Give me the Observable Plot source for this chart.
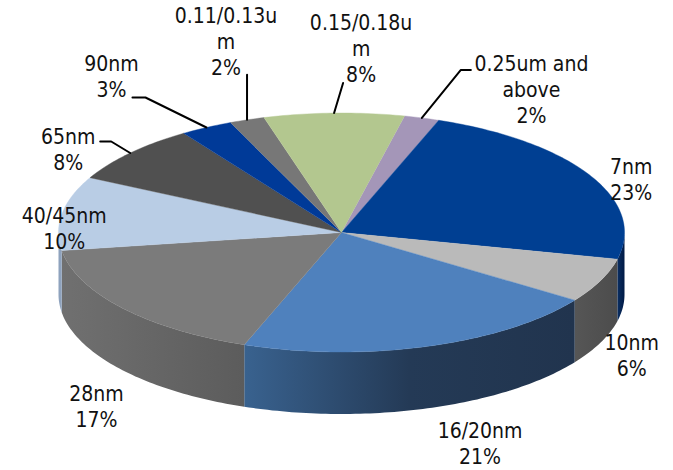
<!DOCTYPE html>
<html>
<head>
<meta charset="utf-8">
<script src="https://cdn.jsdelivr.net/npm/d3@7"></script>
<script src="https://cdn.jsdelivr.net/npm/@observablehq/plot@0.6"></script>
<style>
  html, body { margin: 0; padding: 0; background: #fff; }
  svg { display: block; }
</style>
</head>
<body>
<div id="chart"></div>
<script>
// Share of capacity by process node, clockwise from the first slice.
const nodes = ["0.25um and\nabove", "7nm", "10nm", "16/20nm", "28nm", "40/45nm", "65nm", "90nm", "0.11/0.13u\nm", "0.15/0.18u\nm"];
const shares = [2, 23, 6, 21, 17, 10, 8, 3, 2, 8];
const topColors = ["#a496b8", "#003f92", "#bababa", "#4f81bd", "#7b7b7b", "#b9cde5", "#505050", "#003a98", "#777777", "#b3c78f"];
const wallStops = [
  ["#6f6580", "#5f5570"], ["#0b2f63", "#001a45"], ["#565656", "#4c4c4c"],
  ["#39628f", "#243a56", "#21344e"], ["#707070", "#5c5c5c"], ["#8ea2bd", "#8ea2bd"],
  ["#383838", "#303030"], ["#002a70", "#002060"], ["#555555", "#4d4d4d"], ["#7d8c64", "#6f7d58"]
];

// Label placement relative to the rim point at each slice's middle, in pixels.
const labelNudge = [[109.5, -29], [41, 3], [31, 74], [52.5, 96.5], [-26, 97], [2, 14], [-62, -4.5], [-95, -52], [-21, -79], [27, -65]];
// Leader line bends, same reference point; slices without an entry have no leader.
const leaderBends = {
  0: [[39, -48], [49, -48]],
  6: [[-19, -11.5], [-30, -11.5]],
  7: [[-61, -30], [-74, -30]],
  8: [[0, -45]],
  9: [[9, -30]]
};

const W = 673, H = 470;
const cx = 341, cy = 232, rx = 283, ry = 119.5, depth = 62;
const firstAngle = 12.9;
const depthUnits = depth / ry;

// Tilted-disc position for a clockwise angle from twelve o'clock, in unit-radius space.
const rim = (deg, drop = 0) => {
  const a = deg * Math.PI / 180;
  return { x: Math.sin(a), y: -Math.cos(a) + drop };
};
const arc = (from, to, drop = 0) => {
  const n = Math.max(2, Math.ceil(Math.abs(to - from)));
  return d3.range(n + 1).map(i => rim(from + (to - from) * i / n, drop));
};

const total = d3.sum(shares);
let running = firstAngle;
const slices = shares.map((share, i) => {
  const start = running;
  running += share / total * 360;
  return { i, share, name: nodes[i], start, end: running, mid: (start + running) / 2 };
});

const topFace = s => [{ x: 0, y: 0 }, ...arc(s.start, s.end)];
const wallFace = s => {
  const from = Math.max(s.start, 90), to = Math.min(s.end, 270);
  if (from >= to) return null;
  return [...arc(from, to), ...arc(to, from, depthUnits)];
};

const labels = slices.map(s => {
  const p = rim(s.mid);
  return {
    x: p.x + labelNudge[s.i][0] / rx,
    y: p.y + labelNudge[s.i][1] / ry,
    text: `${s.name}\n${s.share}%`
  };
});
const leaders = Object.entries(leaderBends).flatMap(([i, bends]) => {
  const p = rim(slices[+i].mid);
  return [p, ...bends.map(([dx, dy]) => ({ x: p.x + dx / rx, y: p.y + dy / ry }))]
    .map(q => ({ ...q, slice: +i }));
});

// Wall shading runs left to right across each slice's own bounding box.
const wallGradients = () => {
  const defs = d3.create("svg:defs");
  wallStops.forEach((stops, i) => {
    const g = defs.append("linearGradient").attr("id", `wall-${i}`)
      .attr("x1", 0).attr("x2", 1).attr("y1", 0).attr("y2", 0);
    stops.forEach((c, k) => {
      g.append("stop").attr("offset", k / (stops.length - 1)).attr("stop-color", c);
    });
  });
  return defs.node();
};

const walls = slices.filter(wallFace).map(s =>
  Plot.line(wallFace(s), { x: "x", y: "y", curve: "linear", fill: `url(#wall-${s.i})`, stroke: "none" })
);
const tops = slices.map(s =>
  Plot.line(topFace(s), { x: "x", y: "y", curve: "linear", fill: topColors[s.i], stroke: topColors[s.i], strokeWidth: 0.4 })
);

const chart = Plot.plot({
  width: W,
  height: H,
  margin: 0,
  style: { background: "#fff", fontStretch: "condensed" },
  x: { axis: null, domain: [-cx / rx, (W - cx) / rx], range: [0, W] },
  y: { axis: null, domain: [-cy / ry, (H - cy) / ry], range: [0, H] },
  marks: [
    wallGradients,
    ...walls,
    ...tops,
    Plot.line(leaders, { x: "x", y: "y", z: "slice", curve: "linear", stroke: "#000", strokeWidth: 2 }),
    Plot.text(labels, {
      x: "x", y: "y", text: "text",
      fontFamily: "'DejaVu Sans', sans-serif", fontSize: 21, lineHeight: 1.24,
      fill: "#111", textAnchor: "middle", lineAnchor: "middle"
    })
  ]
});
document.getElementById("chart").append(chart);
</script>
</body>
</html>
